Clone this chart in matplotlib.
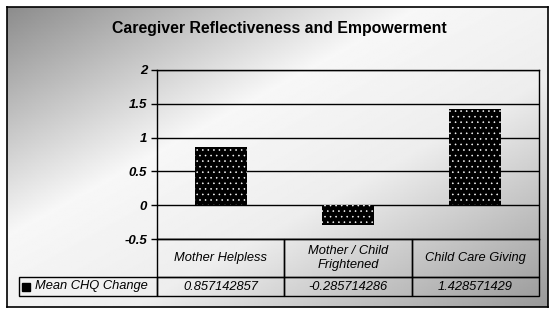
import numpy as np
import matplotlib
matplotlib.use("Agg")
import matplotlib.pyplot as plt
from matplotlib.table import Table
from matplotlib.patches import Rectangle

categories = ["Mother Helpless", "Mother / Child\nFrightened", "Child Care Giving"]
values = [0.857142857, -0.285714286, 1.428571429]
value_labels = ["0.857142857", "-0.285714286", "1.428571429"]
series_name = "Mean CHQ Change"
yticks = [-0.5, 0, 0.5, 1, 1.5, 2]
ytick_labels = ["-0.5", "0", "0.5", "1", "1.5", "2"]

plt.rcParams['font.family'] = ['Liberation Sans', 'DejaVu Sans']
plt.rcParams['hatch.linewidth'] = 0.4

W, H = 556, 316
fig = plt.figure(figsize=(W / 100, H / 100), dpi=100)

def box(x0, y0, x1, y1):
    # pixel box (top-left origin) -> figure fraction
    return [x0 / W, 1 - y1 / H, (x1 - x0) / W, (y1 - y0) / H]

# gradient background inside the chart frame
bg = fig.add_axes(box(7, 7, 548, 307), zorder=0)
gx, gy = np.meshgrid(np.linspace(0, 1, 400), np.linspace(0, 1, 220))
t = (gx + gy) / 2
shade = np.interp(t, [0, 0.38, 0.62, 1.0], [0.55, 0.97, 0.93, 0.6])
bg.imshow(shade, cmap='gray', vmin=0, vmax=1, aspect='auto',
          extent=[0, 1, 1, 0], interpolation='bilinear')
bg.set_xticks([])
bg.set_yticks([])
for s in bg.spines.values():
    s.set_linewidth(1.2)
    s.set_color('black')

fig.text(279 / W, 1 - 28 / H, "Caregiver Reflectiveness and Empowerment",
         ha='center', va='center', fontsize=11.4, fontweight='bold', zorder=3)

ax = fig.add_axes(box(157, 70, 539, 239), zorder=2)
ax.patch.set_alpha(0)
x = np.arange(len(categories))
ax.bar(x, values, width=0.41, color='black', edgecolor='white',
       hatch='...', linewidth=0, zorder=3)
ax.set_xlim(-0.5, len(categories) - 0.5)
ax.set_ylim(-0.5, 2)
ax.set_yticks(yticks)
ax.set_yticklabels(ytick_labels, fontsize=9.5, fontweight='bold', style='italic')
ax.set_xticks([])
ax.tick_params(axis='y', length=4, width=1, color='black', pad=3)
ax.grid(axis='y', color='black', linewidth=1)
ax.set_axisbelow(True)
for s in ax.spines.values():
    s.set_color('black')
    s.set_linewidth(1)

# data table under the plot
plot_h = 239 - 70
plot_w = 539 - 157
lab_w = 157 - 19
fs = 9.3
tb = Table(ax, bbox=[-lab_w / plot_w, -57 / plot_h, (lab_w + plot_w) / plot_w, 57 / plot_h])
tb.auto_set_font_size(False)
blank = tb.add_cell(0, 0, width=lab_w, height=38, text='', facecolor='none')
blank.visible_edges = ''
for j, c in enumerate(categories):
    cell = tb.add_cell(0, j + 1, width=plot_w / 3, height=38, text=c, loc='center',
                       facecolor='none', edgecolor='black')
    cell.get_text().set_style('italic')
    cell.get_text().set_fontsize(fs)
cell = tb.add_cell(1, 0, width=lab_w, height=19, text=series_name, loc='left',
                   facecolor='none', edgecolor='black')
cell.get_text().set_style('italic')
cell.get_text().set_fontsize(fs)
cell.PAD = 0.115
for j, v in enumerate(value_labels):
    cell = tb.add_cell(1, j + 1, width=plot_w / 3, height=19, text=v, loc='center',
                       facecolor='none', edgecolor='black')
    cell.get_text().set_style('italic')
    cell.get_text().set_fontsize(fs)
ax.add_table(tb)

# legend key in the row label
fig.patches.append(Rectangle((22 / W, 1 - 291 / H), 8 / W, 8 / H, transform=fig.transFigure,
                             facecolor='black', edgecolor='black', zorder=4))

fig.savefig("out.png", dpi=100)
